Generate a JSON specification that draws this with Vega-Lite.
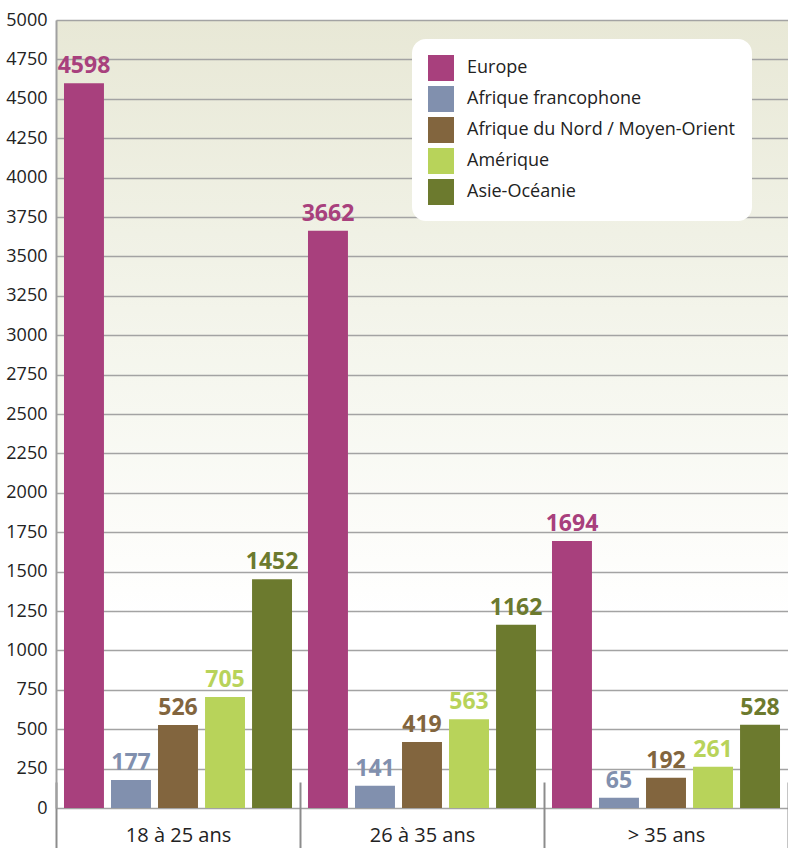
{
  "$schema": "https://vega.github.io/schema/vega-lite/v6.json",
  "width": 732,
  "height": 788,
  "autosize": {"type": "none"},
  "padding": {"left": 56, "top": 20, "right": 0, "bottom": 40},
  "background": "#ffffff",
  "config": {
    "font": "Open Sans",
    "view": {
      "stroke": null,
      "fill": {
        "gradient": "linear",
        "x1": 0, "y1": 0, "x2": 0, "y2": 1,
        "stops": [
          {"offset": 0, "color": "#e8e8d6"},
          {"offset": 0.27, "color": "#f0f1e5"},
          {"offset": 0.5, "color": "#f7f8f1"},
          {"offset": 0.65, "color": "#fcfcf9"},
          {"offset": 0.76, "color": "#ffffff"}
        ]
      }
    }
  },
  "data": {
    "values": [
      {"age": "18 à 25 ans", "region": "Europe", "n": 4598},
      {"age": "18 à 25 ans", "region": "Afrique francophone", "n": 177},
      {"age": "18 à 25 ans", "region": "Afrique du Nord / Moyen-Orient", "n": 526},
      {"age": "18 à 25 ans", "region": "Amérique", "n": 705},
      {"age": "18 à 25 ans", "region": "Asie-Océanie", "n": 1452},
      {"age": "26 à 35 ans", "region": "Europe", "n": 3662},
      {"age": "26 à 35 ans", "region": "Afrique francophone", "n": 141},
      {"age": "26 à 35 ans", "region": "Afrique du Nord / Moyen-Orient", "n": 419},
      {"age": "26 à 35 ans", "region": "Amérique", "n": 563},
      {"age": "26 à 35 ans", "region": "Asie-Océanie", "n": 1162},
      {"age": "> 35 ans", "region": "Europe", "n": 1694},
      {"age": "> 35 ans", "region": "Afrique francophone", "n": 65},
      {"age": "> 35 ans", "region": "Afrique du Nord / Moyen-Orient", "n": 192},
      {"age": "> 35 ans", "region": "Amérique", "n": 261},
      {"age": "> 35 ans", "region": "Asie-Océanie", "n": 528}
    ]
  },
  "encoding": {
    "x": {
      "field": "age",
      "type": "nominal",
      "sort": ["18 à 25 ans", "26 à 35 ans", "> 35 ans"],
      "scale": {"paddingInner": 0, "paddingOuter": 0},
      "axis": {
        "title": null,
        "domain": false,
        "grid": false,
        "labelAngle": 0,
        "tickBand": "extent",
        "tickSize": 66,
        "tickWidth": 2,
        "tickColor": "#8c8c8c",
        "offset": -26,
        "labelPadding": -23,
        "labelFontSize": 20,
        "labelColor": "#222222"
      }
    },
    "xOffset": {
      "field": "region",
      "type": "nominal",
      "sort": ["Europe", "Afrique francophone", "Afrique du Nord / Moyen-Orient", "Amérique", "Asie-Océanie"],
      "scale": {"paddingInner": 0.15, "paddingOuter": 0.17}
    },
    "y": {
      "field": "n",
      "type": "quantitative",
      "scale": {"domain": [0, 5000], "nice": false},
      "axis": {
        "title": null,
        "format": "d",
        "values": [0, 250, 500, 750, 1000, 1250, 1500, 1750, 2000, 2250, 2500, 2750, 3000, 3250, 3500, 3750, 4000, 4250, 4500, 4750, 5000],
        "ticks": false,
        "domain": true,
        "domainColor": "#a0a0a0",
        "domainWidth": 2,
        "grid": true,
        "gridColor": "#a3a3a3",
        "gridWidth": 1.5,
        "gridOpacity": 1,
        "labelPadding": 9,
        "labelFontSize": 18,
        "labelColor": "#222222"
      }
    },
    "color": {
      "field": "region",
      "type": "nominal",
      "scale": {
        "domain": ["Europe", "Afrique francophone", "Afrique du Nord / Moyen-Orient", "Amérique", "Asie-Océanie"],
        "range": ["#a8407d", "#8190ae", "#82653e", "#b8d35a", "#6c7a2e"]
      },
      "legend": {
        "title": null,
        "orient": "none",
        "legendX": 356,
        "legendY": 19,
        "fillColor": "#ffffff",
        "cornerRadius": 14,
        "padding": 16,
        "symbolType": "square",
        "symbolSize": 676,
        "symbolStrokeWidth": 0,
        "symbolOpacity": 1,
        "labelFontSize": 18,
        "labelColor": "#222222",
        "labelOffset": 13,
        "rowPadding": 5,
        "labelLimit": 400
      }
    }
  },
  "layer": [
    {"mark": {"type": "bar", "opacity": 1}},
    {
      "mark": {"type": "text", "baseline": "bottom", "dy": -5, "fontSize": 23, "fontWeight": "bold"},
      "encoding": {"text": {"field": "n", "type": "quantitative", "format": "d"}}
    }
  ]
}
